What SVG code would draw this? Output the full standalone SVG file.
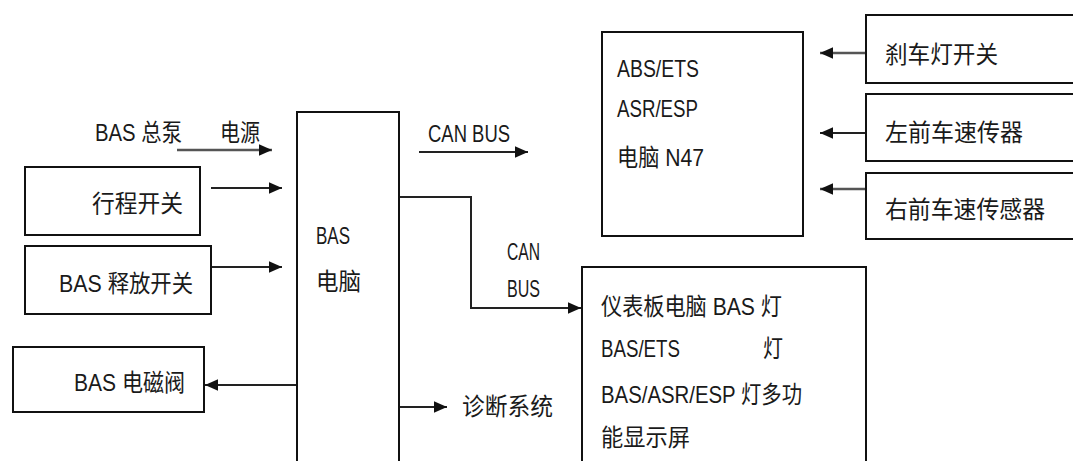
<svg xmlns="http://www.w3.org/2000/svg" width="1073" height="461" viewBox="0 0 1073 461">
<style>
.box{fill:#fff;stroke:#111;stroke-width:2}
.t{font-family:"Liberation Sans","Noto Sans CJK SC",sans-serif;font-size:24px;fill:#1a1a1a}
.c{fill:none;stroke:#222;stroke-width:2}
.g{fill:none;stroke:#555;stroke-width:2.5}
</style>
<defs>
<marker id="ah" viewBox="0 0 10 10" refX="10" refY="5" markerWidth="13" markerHeight="13" markerUnits="userSpaceOnUse" orient="auto">
<path d="M0,0.5 L10,5 L0,9.5 z" fill="#111"/>
</marker>
</defs>
<rect width="1073" height="461" fill="#fff"/>
<g id="connectors">
<line class="g" x1="177" y1="150" x2="272" y2="150" marker-end="url(#ah)"/>
<line class="c" x1="211" y1="188" x2="282" y2="188" marker-end="url(#ah)"/>
<line class="c" x1="211" y1="267" x2="282" y2="267" marker-end="url(#ah)"/>
<line class="c" x1="297" y1="385" x2="205" y2="385" marker-end="url(#ah)"/>
<line class="c" x1="419" y1="152" x2="528" y2="152" marker-end="url(#ah)"/>
<polyline class="c" points="399,197 471,197 471,308 581,308" marker-end="url(#ah)"/>
<line class="c" x1="399" y1="407" x2="447" y2="407" marker-end="url(#ah)"/>
<line class="g" x1="866" y1="53" x2="820" y2="53" marker-end="url(#ah)"/>
<line class="c" x1="866" y1="133" x2="820" y2="133" marker-end="url(#ah)"/>
<line class="g" x1="866" y1="189" x2="820" y2="189" marker-end="url(#ah)"/>
</g>
<g id="label-power">
<text class="t" x="95" y="141" textLength="87" lengthAdjust="spacingAndGlyphs">BAS 总泵</text>
<text class="t" x="220" y="141" textLength="40" lengthAdjust="spacingAndGlyphs">电源</text>
</g>
<g id="node-travel-switch">
<rect class="box" x="25" y="167" width="175" height="68"/>
<text class="t" x="92" y="212" textLength="91" lengthAdjust="spacingAndGlyphs">行程开关</text>
</g>
<g id="node-release-switch">
<rect class="box" x="25" y="246" width="186" height="68"/>
<text class="t" x="59" y="292" textLength="134" lengthAdjust="spacingAndGlyphs">BAS 释放开关</text>
</g>
<g id="node-solenoid">
<rect class="box" x="13" y="347" width="191" height="65"/>
<text class="t" x="74" y="391" textLength="111" lengthAdjust="spacingAndGlyphs">BAS 电磁阀</text>
</g>
<g id="node-bas-ecu">
<rect class="box" x="297" y="112" width="102" height="360"/>
<text class="t" x="316" y="244" textLength="34" lengthAdjust="spacingAndGlyphs">BAS</text>
<text class="t" x="316" y="290" textLength="45" lengthAdjust="spacingAndGlyphs">电脑</text>
</g>
<g id="label-canbus">
<text class="t" x="428" y="142" textLength="82" lengthAdjust="spacingAndGlyphs">CAN  BUS</text>
<text class="t" x="507" y="260" textLength="33" lengthAdjust="spacingAndGlyphs">CAN</text>
<text class="t" x="507" y="297" textLength="33" lengthAdjust="spacingAndGlyphs">BUS</text>
</g>
<g id="node-diagnosis">
<text class="t" x="462" y="415" textLength="91" lengthAdjust="spacingAndGlyphs">诊断系统</text>
</g>
<g id="node-abs">
<rect class="box" x="602" y="32" width="201" height="204"/>
<text class="t" x="617" y="77" textLength="82" lengthAdjust="spacingAndGlyphs">ABS/ETS</text>
<text class="t" x="617" y="117" textLength="81" lengthAdjust="spacingAndGlyphs">ASR/ESP</text>
<text class="t" x="617" y="166" textLength="87" lengthAdjust="spacingAndGlyphs">电脑 N47</text>
</g>
<g id="node-brake-switch">
<rect class="box" x="866" y="15" width="220" height="68"/>
<text class="t" x="885" y="63" textLength="113" lengthAdjust="spacingAndGlyphs">刹车灯开关</text>
</g>
<g id="node-left-sensor">
<rect class="box" x="866" y="94" width="220" height="67"/>
<text class="t" x="885" y="141" textLength="138" lengthAdjust="spacingAndGlyphs">左前车速传器</text>
</g>
<g id="node-right-sensor">
<rect class="box" x="866" y="173" width="220" height="66"/>
<text class="t" x="885" y="218" textLength="160" lengthAdjust="spacingAndGlyphs">右前车速传感器</text>
</g>
<g id="node-dashboard">
<rect class="box" x="582" y="267" width="284" height="210"/>
<text class="t" x="601" y="315" textLength="181" lengthAdjust="spacingAndGlyphs">仪表板电脑 BAS 灯</text>
<text class="t" x="601" y="357" textLength="79" lengthAdjust="spacingAndGlyphs">BAS/ETS</text>
<text class="t" x="763" y="357" textLength="20" lengthAdjust="spacingAndGlyphs">灯</text>
<text class="t" x="601" y="403" textLength="201" lengthAdjust="spacingAndGlyphs">BAS/ASR/ESP 灯多功</text>
<text class="t" x="601" y="446" textLength="89" lengthAdjust="spacingAndGlyphs">能显示屏</text>
</g>
</svg>
